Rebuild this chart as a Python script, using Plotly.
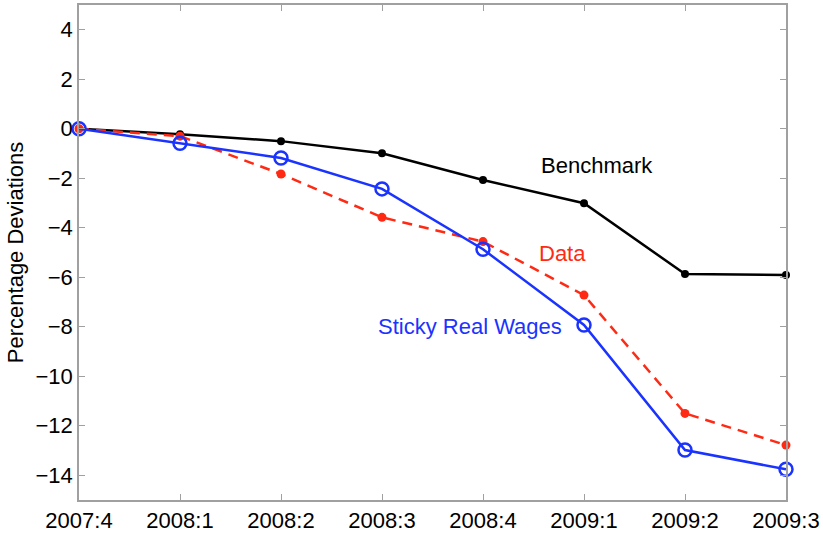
import plotly.graph_objects as go

quarters = ["2007:4", "2008:1", "2008:2", "2008:3", "2008:4", "2009:1", "2009:2", "2009:3"]
benchmark = [0.0, -0.22, -0.50, -0.99, -2.07, -3.01, -5.87, -5.91]
data_vals = [0.0, -0.30, -1.83, -3.58, -4.56, -6.72, -11.50, -12.78]
sticky = [0.0, -0.59, -1.18, -2.43, -4.87, -7.93, -12.98, -13.76]
y_ticks = [-14, -12, -10, -8, -6, -4, -2, 0, 2, 4]

BLACK = "#000000"
RED = "#ff2a14"
BLUE = "#1a33ff"
FONT = "Liberation Sans, Arial, sans-serif"
FS = 22

x_idx = list(range(len(quarters)))

fig = go.Figure()
fig.add_trace(go.Scatter(x=x_idx, y=benchmark, mode="lines+markers",
                         line=dict(color=BLACK, width=2.5),
                         marker=dict(color=BLACK, size=8, symbol="circle"),
                         name="Benchmark", cliponaxis=False))
fig.add_trace(go.Scatter(x=x_idx, y=data_vals, mode="lines+markers",
                         line=dict(color=RED, width=2.5, dash="10px,7px"),
                         marker=dict(color=RED, size=9, symbol="circle"),
                         name="Data", cliponaxis=False))
fig.add_trace(go.Scatter(x=x_idx, y=sticky, mode="lines+markers",
                         line=dict(color=BLUE, width=2.5),
                         marker=dict(color=BLUE, size=13, symbol="circle-open",
                                     line=dict(color=BLUE, width=2.5)),
                         name="Sticky Real Wages", cliponaxis=False))

fig.add_annotation(x=5.13, y=-1.5, text="Benchmark", showarrow=False,
                   font=dict(color=BLACK, size=FS, family=FONT), xanchor="center", yanchor="middle")
fig.add_annotation(x=4.79, y=-5.02, text="Data", showarrow=False,
                   font=dict(color=RED, size=FS, family=FONT), xanchor="center", yanchor="middle")
fig.add_annotation(x=3.87, y=-8.0, text="Sticky Real Wages", showarrow=False,
                   font=dict(color=BLUE, size=FS, family=FONT), xanchor="center", yanchor="middle")

axis_common = dict(showgrid=False, zeroline=False, showline=True, linecolor="#a0a0a0",
                   linewidth=1.5, mirror="ticks", ticks="inside", ticklen=6,
                   tickcolor="#a0a0a0", tickfont=dict(size=FS, color="#000", family=FONT),
                   automargin=False)

fig.update_xaxes(tickmode="array", tickvals=x_idx, ticktext=quarters,
                 range=[0, len(quarters) - 1], **axis_common)
fig.update_yaxes(tickmode="array", tickvals=y_ticks,
                 ticktext=[("\u2212" + str(abs(v))) if v < 0 else str(v) for v in y_ticks],
                 range=[-15, 5],
                 title=dict(text="Percentage Deviations", font=dict(size=FS, family=FONT, color="#000"),
                            standoff=6),
                 **axis_common)

fig.update_layout(width=823, height=533, plot_bgcolor="white", paper_bgcolor="white",
                  margin=dict(l=79, r=37, t=5, b=33), showlegend=False,
                  font=dict(family=FONT))

fig.write_html("out.html", config={"displayModeBar": False},
               post_script="document.body.style.margin='0';")
